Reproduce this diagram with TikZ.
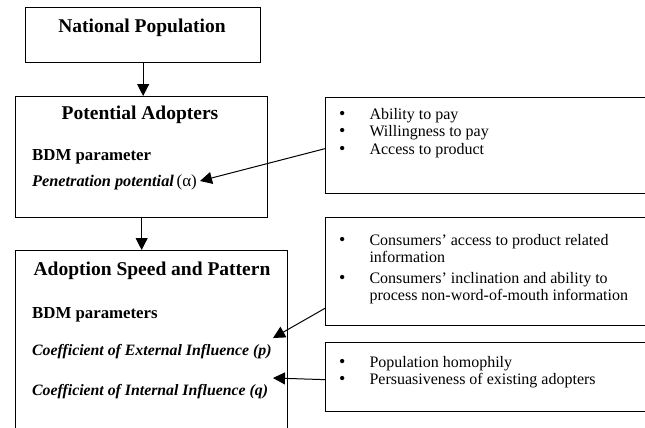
\documentclass[tikz,border=0pt]{standalone}
\usepackage{fontspec}
\setmainfont{Liberation Serif}
\usetikzlibrary{arrows.meta,positioning}
\newcommand{\blt}{{\fontsize{18}{17.5}\selectfont\textbullet}}

\begin{document}
\begin{tikzpicture}[
	x=1pt, y=-1pt,
	>={Triangle[length=12pt,width=12pt]},
	box/.style={
		draw=black, line width=1.3pt, inner sep=0pt, anchor=north west
	},
	ttl/.style={
		font=\fontsize{19.5}{22}\selectfont\bfseries, anchor=base, inner sep=0pt
	},
	hdr/.style={anchor=base west, inner sep=0pt},
	lst/.style={
		font=\fontsize{16}{17.5}\selectfont, anchor=base west, inner sep=0pt
	},
	link/.style={->, line width=1pt}
	]
	\clip (0,0) rectangle (645,428);

	% left column
	\node[box, minimum width=235pt, minimum height=55pt] (natpop) at (25,7) {};
	\node[box, minimum width=252pt, minimum height=121pt] (potad) at (15,96) {};
	\node[box, minimum width=272pt, minimum height=220pt] (adopt) at (15,250) {};

	\node[ttl] (natpopT) at (142,33) {National Population};
	\node[ttl] (potadT) at (140,119) {Potential Adopters};
	\node[ttl] (adoptT) at (152,275) {Adoption Speed and Pattern};

	\node[hdr, font=\fontsize{16.8}{18}\selectfont\bfseries] (bdmA) at (32,160) {BDM parameter};
	\node[hdr, font=\fontsize{16.3}{18}\selectfont\bfseries\itshape] (pen) at (32,186)
		{Penetration potential\,{\normalfont\fontsize{17}{18}\selectfont(α)}};
	\node[hdr, font=\fontsize{16.8}{18}\selectfont\bfseries] (bdmB) at (32,318) {BDM parameters};
	\node[hdr, font=\fontsize{15.8}{17}\selectfont\bfseries\itshape] (ext) at (32,355)
		{Coefficient of External Influence (\textit{p})};
	\node[hdr, font=\fontsize{15.8}{17}\selectfont\bfseries\itshape] (int) at (32,395)
		{Coefficient of Internal Influence (\textit{q})};

	% right column (cut off at the page edge)
	\node[box, minimum width=400pt, minimum height=96pt] (r1) at (325,97) {};
	\node[box, minimum width=400pt, minimum height=108pt] (r2) at (325,217) {};
	\node[box, minimum width=400pt, minimum height=69pt] (r3) at (325,342) {};

	\node[lst] (r1L) at (339,119) {\begin{tabular}[t]{@{}l@{\hspace{24pt}}l@{}}
		\blt & Ability to pay\\
		\blt & Willingness to pay\\
		\blt & Access to product
	\end{tabular}};
	\node[lst] (r2L) at (339,245) {\begin{tabular}[t]{@{}l@{\hspace{24pt}}l@{}}
		\blt & Consumers’ access to product related\\
		& information\\[3pt]
		\blt & Consumers’ inclination and ability to\\
		& process non-word-of-mouth information
	\end{tabular}};
	\node[lst] (r3L) at (339,367) {\begin{tabular}[t]{@{}l@{\hspace{24pt}}l@{}}
		\blt & Population homophily\\
		\blt & Persuasiveness of existing adopters
	\end{tabular}};

	% connectors
	\coordinate (tipA) at (200,181);
	\coordinate (tipB) at (273,338);
	\coordinate (tipC) at (273,378);

	\draw[link] (natpop.south) -- (natpop.south |- potad.north);
	\draw[link] (potad.south) -- (potad.south |- adopt.north);
	\draw[link] ([yshift=-3pt]r1.west) -- (tipA);
	\draw[link] ([yshift=18pt]r2.south west) -- (tipB);
	\draw[link] ([yshift=-2.5pt]r3.west) -- (tipC);
\end{tikzpicture}
\end{document}
